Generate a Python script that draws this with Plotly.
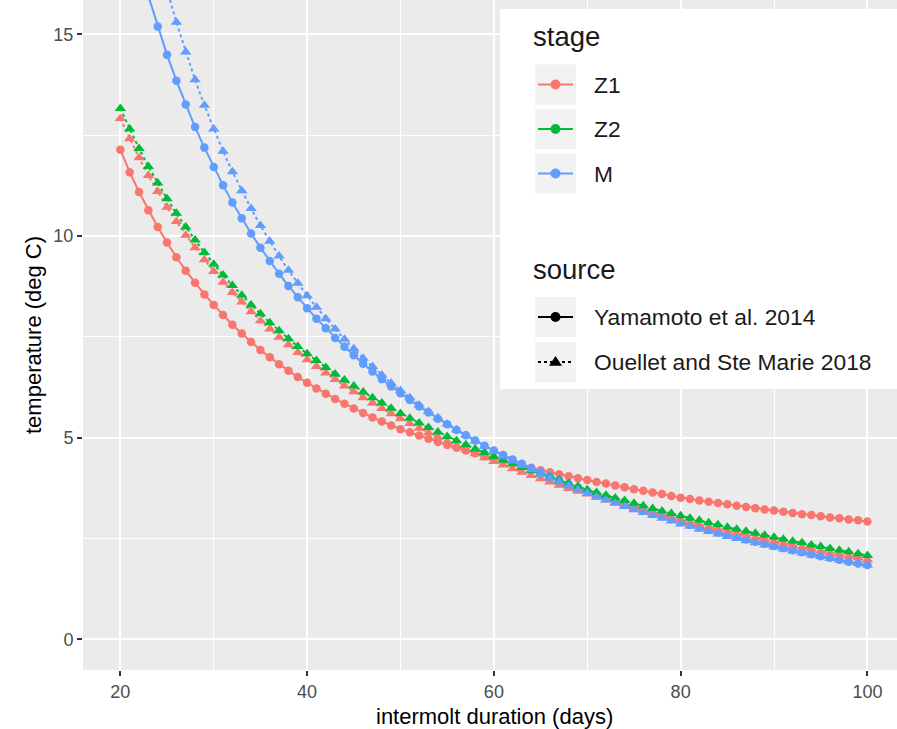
import plotly.graph_objects as go

# ---------------- data ----------------
days = list(range(20, 101))

z1_yamamoto = [12.14, 11.58, 11.09, 10.64, 10.22, 9.84, 9.47, 9.14, 8.84, 8.55,
               8.29, 8.04, 7.80, 7.58, 7.37, 7.17, 6.99, 6.82, 6.66, 6.50,
               6.36, 6.22, 6.09, 5.96, 5.84, 5.72, 5.61, 5.50, 5.40, 5.30,
               5.21, 5.13, 5.05, 4.97, 4.89, 4.82, 4.75, 4.68, 4.61, 4.54,
               4.48, 4.42, 4.36, 4.30, 4.25, 4.19, 4.14, 4.09, 4.04, 3.99,
               3.95, 3.90, 3.86, 3.81, 3.77, 3.72, 3.68, 3.64, 3.60, 3.55,
               3.51, 3.48, 3.44, 3.41, 3.38, 3.35, 3.31, 3.28, 3.25, 3.22,
               3.19, 3.16, 3.13, 3.10, 3.08, 3.05, 3.02, 3.00, 2.97, 2.95,
               2.92]

m_yamamoto = [18.66, 17.67, 16.77, 15.95, 15.19, 14.49, 13.85, 13.26, 12.70, 12.19,
              11.71, 11.26, 10.83, 10.44, 10.06, 9.71, 9.38, 9.06, 8.76, 8.48,
              8.21, 7.95, 7.71, 7.47, 7.25, 7.04, 6.83, 6.64, 6.45, 6.27,
              6.10, 5.93, 5.77, 5.62, 5.47, 5.33, 5.19, 5.06, 4.93, 4.80,
              4.68, 4.57, 4.46, 4.35, 4.24, 4.14, 4.04, 3.94, 3.85, 3.76,
              3.67, 3.58, 3.50, 3.42, 3.34, 3.26, 3.19, 3.12, 3.05, 2.98,
              2.91, 2.84, 2.78, 2.71, 2.65, 2.59, 2.54, 2.48, 2.42, 2.37,
              2.31, 2.26, 2.21, 2.16, 2.11, 2.06, 2.02, 1.97, 1.92, 1.88,
              1.84]

z1_ouellet = [12.91, 12.41, 11.94, 11.50, 11.10, 10.71, 10.36, 10.02, 9.71, 9.41,
              9.12, 8.85, 8.60, 8.36, 8.12, 7.90, 7.69, 7.49, 7.30, 7.11,
              6.93, 6.76, 6.60, 6.44, 6.28, 6.14, 5.99, 5.86, 5.72, 5.59,
              5.47, 5.35, 5.23, 5.12, 5.01, 4.90, 4.80, 4.70, 4.60, 4.50,
              4.41, 4.32, 4.23, 4.14, 4.06, 3.98, 3.90, 3.82, 3.74, 3.67,
              3.60, 3.52, 3.45, 3.39, 3.32, 3.26, 3.19, 3.13, 3.07, 3.01,
              2.95, 2.89, 2.83, 2.78, 2.72, 2.67, 2.62, 2.57, 2.52, 2.47,
              2.42, 2.37, 2.32, 2.28, 2.23, 2.19, 2.14, 2.10, 2.06, 2.02,
              1.97]

z2_ouellet = [13.16, 12.65, 12.17, 11.72, 11.31, 10.92, 10.56, 10.22, 9.90, 9.59,
              9.30, 9.03, 8.77, 8.53, 8.29, 8.07, 7.85, 7.65, 7.45, 7.26,
              7.08, 6.91, 6.74, 6.58, 6.43, 6.28, 6.13, 5.99, 5.86, 5.73,
              5.60, 5.48, 5.36, 5.25, 5.14, 5.03, 4.92, 4.82, 4.72, 4.63,
              4.53, 4.44, 4.35, 4.26, 4.18, 4.10, 4.02, 3.94, 3.86, 3.79,
              3.71, 3.64, 3.57, 3.50, 3.44, 3.37, 3.31, 3.24, 3.18, 3.12,
              3.06, 3.00, 2.95, 2.89, 2.84, 2.78, 2.73, 2.68, 2.63, 2.58,
              2.53, 2.48, 2.43, 2.39, 2.34, 2.30, 2.25, 2.21, 2.17, 2.12,
              2.08]

m_ouellet = [21.52, 20.21, 19.03, 17.96, 16.99, 16.11, 15.30, 14.56, 13.87, 13.24,
             12.65, 12.10, 11.59, 11.12, 10.68, 10.26, 9.87, 9.50, 9.15, 8.83,
             8.52, 8.23, 7.95, 7.69, 7.44, 7.20, 6.97, 6.76, 6.55, 6.35,
             6.17, 5.99, 5.81, 5.65, 5.49, 5.34, 5.19, 5.05, 4.91, 4.78,
             4.66, 4.54, 4.42, 4.31, 4.20, 4.09, 3.99, 3.90, 3.80, 3.71,
             3.62, 3.53, 3.45, 3.37, 3.29, 3.21, 3.14, 3.07, 3.00, 2.93,
             2.86, 2.80, 2.73, 2.67, 2.61, 2.55, 2.50, 2.44, 2.39, 2.34,
             2.29, 2.24, 2.19, 2.14, 2.09, 2.05, 2.00, 1.96, 1.92, 1.88,
             1.84]

stage_labels = ["Z1", "Z2", "M"]
source_labels = ["Yamamoto et al. 2014", "Ouellet and Ste Marie 2018"]
x_ticks = [20, 40, 60, 80, 100]
x_minor = [30, 50, 70, 90]
y_ticks = [0, 5, 10, 15]
y_minor = [2.5, 7.5, 12.5]
x_title = "intermolt duration (days)"
y_title = "temperature (deg C)"

# ---------------- styles ----------------
stage_colors = {"Z1": "#F8766D", "Z2": "#00BA38", "M": "#619CFF"}
source_dash = {source_labels[0]: "solid", source_labels[1]: "dot"}
source_symbol = {source_labels[0]: "circle", source_labels[1]: "triangle-up"}
source_msize = {source_labels[0]: 8.5, source_labels[1]: 10}

series = [
    (z1_yamamoto, "Z1", source_labels[0]),
    (m_yamamoto, "M", source_labels[0]),
    (z1_ouellet, "Z1", source_labels[1]),
    (z2_ouellet, "Z2", source_labels[1]),
    (m_ouellet, "M", source_labels[1]),
]

FONT = "Liberation Sans, Arial, Helvetica, sans-serif"
W, H = 897, 729
L, B, T, R = 83, 59, 0, 0
PW, PH = W - L - R, H - T - B

fig = go.Figure()

# lines first
for vals, stage, src in series:
    fig.add_trace(go.Scatter(
        x=days, y=vals, mode="lines", showlegend=False, hoverinfo="skip",
        line=dict(color=stage_colors[stage], width=2, dash=source_dash[src]),
    ))
# then points
for vals, stage, src in series:
    fig.add_trace(go.Scatter(
        x=days, y=vals, mode="markers", showlegend=False,
        marker=dict(color=stage_colors[stage], symbol=source_symbol[src],
                    size=source_msize[src], line=dict(width=0)),
    ))


def px(xp):
    return (xp - L) / PW


def py(yp):
    return (PH - (yp - T)) / PH


shapes = []
annotations = []

# legend background
shapes.append(dict(type="rect", xref="paper", yref="paper", layer="above",
                   x0=px(500), x1=px(905), y0=py(389), y1=py(9),
                   fillcolor="white", line=dict(width=0)))

key_x0, key_x1 = 535, 576
key_cx = (key_x0 + key_x1) / 2
label_x = 592


def add_key(cy, color, dash, symbol, label):
    shapes.append(dict(type="rect", xref="paper", yref="paper", layer="above",
                       x0=px(key_x0), x1=px(key_x1), y0=py(cy + 20), y1=py(cy - 20),
                       fillcolor="#F2F2F2", line=dict(width=0)))
    shapes.append(dict(type="line", xref="paper", yref="paper", layer="above",
                       x0=px(key_x0 + 3), x1=px(key_x1 - 3), y0=py(cy), y1=py(cy),
                       line=dict(color=color, width=2.2, dash=dash)))
    if symbol == "circle":
        r = 5
        shapes.append(dict(type="circle", xref="paper", yref="paper", layer="above",
                           x0=px(key_cx - r), x1=px(key_cx + r),
                           y0=py(cy + r), y1=py(cy - r),
                           fillcolor=color, line=dict(width=0)))
    else:
        hw, hh = 6.5, 5.5
        path = "M {:.5f},{:.5f} L {:.5f},{:.5f} L {:.5f},{:.5f} Z".format(
            px(key_cx - hw), py(cy + hh * 0.7), px(key_cx + hw), py(cy + hh * 0.7),
            px(key_cx), py(cy - hh * 1.1))
        shapes.append(dict(type="path", xref="paper", yref="paper", layer="above",
                           path=path, fillcolor=color, line=dict(width=0)))
    annotations.append(dict(xref="paper", yref="paper", x=px(label_x), y=py(cy),
                            xanchor="left", yanchor="middle", showarrow=False,
                            text=label, font=dict(family=FONT, size=22.8, color="#1A1A1A")))


annotations.append(dict(xref="paper", yref="paper", x=px(531), y=py(37),
                        xanchor="left", yanchor="middle", showarrow=False,
                        text="stage", font=dict(family=FONT, size=27.5, color="#1A1A1A")))
for cy, st in zip([84.5, 129, 173.5], stage_labels):
    add_key(cy, stage_colors[st], "solid", "circle", st)

annotations.append(dict(xref="paper", yref="paper", x=px(531), y=py(269),
                        xanchor="left", yanchor="middle", showarrow=False,
                        text="source", font=dict(family=FONT, size=27.5, color="#1A1A1A")))
for cy, src in zip([317, 362], source_labels):
    add_key(cy, "black", source_dash[src], source_symbol[src], src)

# axis titles
annotations.append(dict(xref="paper", yref="paper", x=px(494), y=py(716),
                        xanchor="center", yanchor="middle", showarrow=False,
                        text=x_title, font=dict(family=FONT, size=22, color="black")))
annotations.append(dict(xref="paper", yref="paper", x=px(33), y=py(335),
                        xanchor="center", yanchor="middle", showarrow=False, textangle=-90,
                        text=y_title, font=dict(family=FONT, size=22, color="black")))

axis_common = dict(
    showline=False, zeroline=False, showgrid=True, gridcolor="white", gridwidth=2.4,
    ticks="outside", ticklen=5, tickwidth=2, tickcolor="#333333",
    tickfont=dict(family=FONT, size=18, color="#4D4D4D"),
)

fig.update_layout(
    width=W, height=H,
    margin=dict(l=L, r=R, t=T, b=B, pad=0),
    paper_bgcolor="white", plot_bgcolor="#EBEBEB",
    showlegend=False,
    xaxis=dict(range=[16.0, 103.17], tickmode="array", tickvals=x_ticks,
               minor=dict(tickmode="array", tickvals=x_minor, showgrid=True,
                          gridcolor="white", gridwidth=1.3, ticks=""),
               **axis_common),
    yaxis=dict(range=[-0.762, 15.85], tickmode="array", tickvals=y_ticks,
               minor=dict(tickmode="array", tickvals=y_minor, showgrid=True,
                          gridcolor="white", gridwidth=1.3, ticks=""),
               **axis_common),
    shapes=shapes,
    annotations=annotations,
)

fig.write_html("out.html", config={"displayModeBar": False},
               post_script="document.body.style.margin='0';document.body.style.padding='0';")
